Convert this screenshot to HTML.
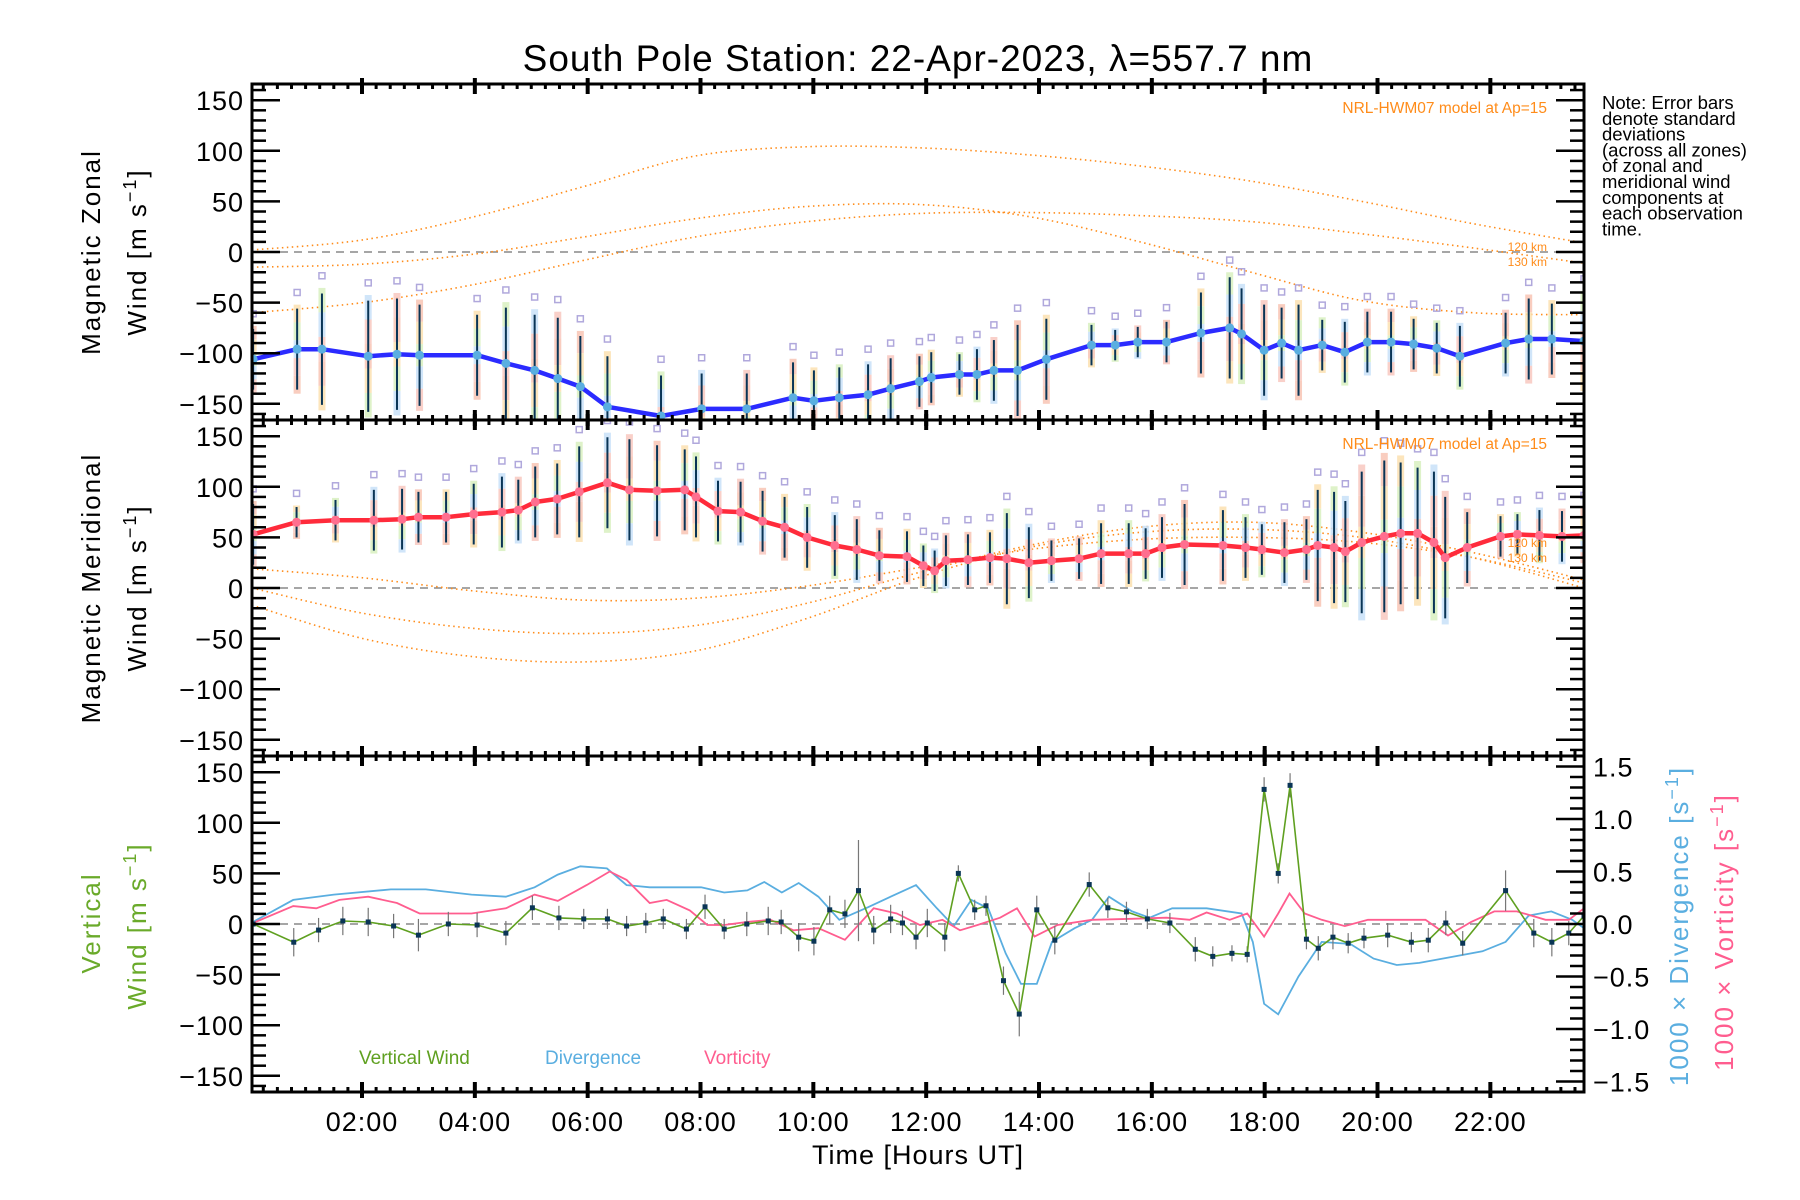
<!DOCTYPE html>
<html><head><meta charset="utf-8"><title>South Pole Station winds</title>
<style>
html,body{margin:0;padding:0;background:#fff;}
svg{display:block;font-family:"Liberation Sans",sans-serif;}
</style></head>
<body>
<svg id="chart" width="1800" height="1200" viewBox="0 0 1800 1200" xmlns="http://www.w3.org/2000/svg">
<rect x="0" y="0" width="1800" height="1200" fill="#fff"/>
<text x="918" y="71" font-size="37" text-anchor="middle" letter-spacing="1">South Pole Station: 22-Apr-2023, λ=557.7 nm</text>
<text font-size="18.5" fill="#000">
<tspan x="1602" y="109">Note: Error bars</tspan>
<tspan x="1602" y="124.8">denote standard</tspan>
<tspan x="1602" y="140.6">deviations</tspan>
<tspan x="1602" y="156.4">(across all zones)</tspan>
<tspan x="1602" y="172.2">of zonal and</tspan>
<tspan x="1602" y="188">meridional wind</tspan>
<tspan x="1602" y="203.8">components at</tspan>
<tspan x="1602" y="219.6">each observation</tspan>
<tspan x="1602" y="235.4">time.</tspan>
</text>
<g id="plots"></g>
</svg>
<script>
// ---------- data ----------
const modelH = [0.05,2.02,4.0,5.95,7.92,9.89,11.85,13.82,15.79,17.76,19.72,21.69,23.66];
const zonalModel120 = [2,12,35,65,95,104,103,96,85,70,50,28,9];
const zonalModelB = [-15,-12,-2,15,33,45,47,35,10,-20,-48,-60,-62];
const zonalModel130 = [-60,-50,-32,-8,15,30,38,39,36,30,18,4,-11];
const meridModelA = [19,10,-3,-12,-10,2,20,38,48,50,45,30,5];
const meridModelB = [0,-25,-40,-45,-37,-15,15,42,60,65,55,35,8];
const meridModelC = [-17,-50,-68,-73,-62,-30,10,40,55,58,50,30,0];

const zonalHours = [0.07,0.85,1.29,2.11,2.62,3.02,4.04,4.55,5.06,5.47,5.87,6.35,7.30,8.02,8.82,9.64,10.01,10.46,10.97,11.37,11.88,12.09,12.59,12.90,13.20,13.62,14.13,14.93,15.35,15.75,16.26,16.87,17.38,17.59,17.99,18.30,18.60,19.02,19.42,19.82,20.24,20.64,21.05,21.46,22.27,22.68,23.09,23.66];
const zonalWind = [-106,-96,-96,-103,-101,-102,-102,-110,-117,-125,-133,-153,-162,-155,-155,-144,-147,-144,-141,-135,-128,-124,-121,-121,-117,-117,-106,-92,-92,-89,-89,-80,-75,-81,-97,-90,-97,-92,-99,-89,-89,-91,-95,-103,-90,-86,-86,-88];
const zonalSd = [30,40,55,55,55,50,40,55,55,60,50,50,40,35,35,35,30,30,30,30,25,25,20,25,30,45,40,20,15,15,20,40,50,45,45,35,45,25,30,30,30,25,25,30,30,40,35,45];

const meridHours = [0.07,0.84,1.53,2.21,2.71,3.0,3.49,3.98,4.48,4.77,5.07,5.46,5.85,6.35,6.74,7.23,7.72,7.92,8.31,8.71,9.10,9.49,9.89,10.38,10.77,11.17,11.66,11.95,12.15,12.35,12.74,13.13,13.43,13.82,14.22,14.71,15.10,15.59,15.89,16.18,16.58,17.26,17.66,17.95,18.35,18.74,18.94,19.23,19.43,19.72,20.12,20.41,20.71,21.0,21.2,21.59,22.18,22.48,22.87,23.27,23.66];
const meridWind = [53,65,67,67,68,70,70,73,75,77,85,88,95,104,97,96,97,90,76,75,66,60,50,42,38,32,31,22,17,27,28,30,29,25,27,29,34,34,34,40,43,42,40,38,35,38,42,40,36,45,51,54,54,45,30,40,51,53,52,51,52];
const meridSd = [30,15,20,30,30,25,25,30,35,30,35,35,45,45,50,45,40,40,30,30,30,30,30,30,30,25,25,20,20,25,25,25,45,35,20,20,30,30,25,30,40,35,30,25,30,30,55,55,50,70,75,70,65,70,60,35,20,20,25,25,25];

const vertHours = [0.07,0.79,1.23,1.66,2.11,2.56,3.0,3.53,4.04,4.55,5.02,5.49,5.93,6.35,6.69,7.03,7.34,7.75,8.08,8.42,8.82,9.20,9.43,9.74,10.01,10.29,10.56,10.80,11.07,11.37,11.58,11.82,12.02,12.33,12.57,12.86,13.06,13.37,13.65,13.96,14.28,14.89,15.22,15.55,15.92,16.32,16.77,17.08,17.42,17.69,17.99,18.24,18.45,18.74,18.95,19.21,19.48,19.76,20.18,20.60,20.90,21.21,21.51,22.27,22.77,23.09,23.39,23.66];
const vertWind = [0,-18,-6,3,2,-2,-11,0,-1,-9,16,6,5,5,-2,1,5,-5,17,-5,0,3,2,-13,-17,14,10,33,-6,5,1,-13,1,-13,50,14,18,-56,-89,14,-16,39,16,12,5,1,-25,-32,-29,-30,133,50,137,-15,-24,-13,-19,-14,-11,-18,-16,1,-19,33,-9,-18,-9,8];
const vertSd = [12,14,12,14,14,12,16,12,12,12,12,12,10,10,10,10,10,10,12,10,12,14,12,14,14,14,14,50,14,14,12,12,14,14,8,10,10,14,22,14,14,12,10,10,10,10,12,10,8,8,12,10,12,10,12,12,10,10,12,10,12,12,12,20,14,14,12,12];

const divHours = [0.07,0.78,1.50,2.51,3.13,3.94,4.55,5.06,5.47,5.87,6.34,6.69,7.10,8.01,8.42,8.83,9.13,9.44,9.74,10.09,10.46,10.97,11.37,11.82,12.19,12.49,12.80,13.10,13.41,13.68,13.96,14.23,14.63,14.94,15.24,15.65,15.96,16.36,16.97,17.59,17.79,17.99,18.24,18.60,19.01,19.52,19.93,20.34,20.74,21.25,21.86,22.27,22.68,23.08,23.45,23.66];
const divergence = [0.02,0.23,0.28,0.33,0.33,0.28,0.26,0.35,0.47,0.55,0.53,0.37,0.35,0.35,0.30,0.32,0.40,0.30,0.39,0.26,0.04,0.16,0.26,0.37,0.15,-0.02,0.23,0.15,-0.28,-0.57,-0.57,-0.17,-0.04,0.04,0.26,0.12,0.06,0.15,0.15,0.10,-0.17,-0.76,-0.86,-0.5,-0.17,-0.19,-0.33,-0.39,-0.37,-0.32,-0.26,-0.17,0.08,0.12,0.04,-0.04];

const vortHours = [0.07,0.78,1.19,1.60,2.11,2.62,3.02,3.94,4.55,5.06,5.47,5.98,6.39,6.69,7.10,7.40,7.81,8.12,8.42,8.83,9.24,9.65,10.09,10.56,11.07,11.48,11.89,12.29,12.60,12.91,13.31,13.61,13.92,14.33,14.94,15.65,16.26,16.67,16.97,17.38,17.69,17.99,18.24,18.44,18.71,19.01,19.42,19.83,20.24,20.85,21.25,21.66,22.07,22.47,22.98,23.39,23.66];
const vorticity = [0.01,0.17,0.15,0.23,0.26,0.2,0.1,0.1,0.15,0.28,0.22,0.37,0.5,0.42,0.2,0.23,0.13,-0.01,-0.01,0.02,0.04,-0.06,-0.04,-0.15,0.15,0.1,-0.01,0.04,-0.06,-0.01,0.06,0.15,-0.12,-0.01,0.04,0.05,0.06,0.04,0.11,0.04,0.1,-0.12,0.1,0.29,0.1,0.04,-0.02,0.04,0.04,0.04,-0.11,0.02,0.12,0.12,0.04,0.04,0.15];

const windTicks = [-150,-100,-50,0,50,100,150];
const ratioTicks = [-1.5,-1.0,-0.5,0.0,0.5,1.0,1.5];
const hourTicks = [2,4,6,8,10,12,14,16,18,20,22];
const hourLabels = ["02:00","04:00","06:00","08:00","10:00","12:00","14:00","16:00","18:00","20:00","22:00"];

// ---------- axes ----------
const NS = "http://www.w3.org/2000/svg";
const L = 252, R = 1584, H0 = 0.05, H1 = 23.66;
const tops = [84, 420, 756], PH = 336, VMAX = 166, RMAX = 1.6;
const X = h => L + (h - H0) / (H1 - H0) * (R - L);
const Yp = (top) => v => top + PH / 2 - v / VMAX * (PH / 2);
const Yr = v => tops[2] + PH / 2 - v / RMAX * (PH / 2);
const root = document.getElementById('plots');

function mk(tag, attrs, parent) {
  const e = document.createElementNS(NS, tag);
  for (const k in attrs) e.setAttribute(k, attrs[k]);
  (parent || root).appendChild(e);
  return e;
}
function smoothPath(hs, vs, Y) {
  const p = hs.map((h, i) => [X(h), Y(vs[i])]);
  let d = `M${p[0][0]},${p[0][1]}`;
  for (let i = 0; i < p.length - 1; i++) {
    const p0 = p[Math.max(0, i - 1)], p1 = p[i], p2 = p[i + 1], p3 = p[Math.min(p.length - 1, i + 2)];
    const c1 = [p1[0] + (p2[0] - p0[0]) / 6, p1[1] + (p2[1] - p0[1]) / 6];
    const c2 = [p2[0] - (p3[0] - p1[0]) / 6, p2[1] - (p3[1] - p1[1]) / 6];
    d += ` C${c1[0]},${c1[1]} ${c2[0]},${c2[1]} ${p2[0]},${p2[1]}`;
  }
  return d;
}
function linePath(hs, vs, Y) {
  return hs.map((h, i) => (i ? 'L' : 'M') + X(h).toFixed(1) + ',' + Y(vs[i]).toFixed(1)).join(' ');
}

const defs = mk('defs', {});
tops.forEach((t, i) => {
  const cp = mk('clipPath', { id: 'clip' + i }, defs);
  mk('rect', { x: L, y: t, width: R - L, height: PH }, cp);
});

const pastel = ['#f8c4b4', '#fbe0b0', '#d8f0c0', '#c8e0f8', '#f8c8c0'];

function windPanel(idx, hours, vals, sd, lineColor, dotColor, models, name) {
  const top = tops[idx], Y = Yp(top);
  const g = mk('g', { 'clip-path': `url(#clip${idx})` });
  
  
  const z = mk('line', { x1: L, x2: R, y1: Y(0), y2: Y(0), stroke: '#888', 'stroke-width': 1.5, 'stroke-dasharray': '8 6' }, g);
  
  
  models.forEach((m, k) => {
    const p = mk('path', { d: smoothPath(modelH, m, Y), fill: 'none', stroke: '#ff8c1a', 'stroke-width': 1.6, 'stroke-dasharray': '1.5 3.5' }, g);
    
    
  });
  hours.forEach((h, i) => {
    const x = X(h);
    const lo = vals[i] - sd[i] * 1.1, hi = vals[i] + sd[i] * 1.1;
    const n = 5;
    for (let k = 0; k < n; k++) {
      const r = mk('rect', { x: x - 3.5, y: Y(hi - (hi - lo) * k / n), width: 7, height: Math.abs(Y(0) - Y((hi - lo) / n)), fill: pastel[(k + i) % 5], opacity: 0.85 }, g);
      
      
    }
    const q = mk('rect', { x: x - 3, y: Y(hi + 12) - 3, width: 6, height: 6, fill: 'none', stroke: '#b0a8dc', 'stroke-width': 1.5 }, g);
    
    
  });
  hours.forEach((h, i) => {
    const e = mk('line', { x1: X(h), x2: X(h), y1: Y(vals[i] - sd[i]), y2: Y(vals[i] + sd[i]), stroke: '#0a3556', 'stroke-width': 2 }, g);
    
    
  });
  const ln = mk('path', { d: linePath(hours, vals, Y), fill: 'none', stroke: lineColor, 'stroke-width': 4.5, 'stroke-linejoin': 'round' }, g);
  
  
  hours.forEach((h, i) => {
    const c = mk('circle', { cx: X(h), cy: Y(vals[i]), r: 4.5, fill: dotColor }, g);
    
    
  });
  const t1 = mk('text', { x: 1547, y: top + 29, 'font-size': 15.5, fill: '#ff8c1a', 'text-anchor': 'end' });
  t1.textContent = 'NRL-HWM07 model at Ap=15';
  
  
  const kmY = idx === 0 ? [top + 167, top + 182] : [top + 127, top + 142];
  ['120 km', '130 km'].forEach((s, k) => {
    const t = mk('text', { x: 1547, y: kmY[k], 'font-size': 12, fill: '#ff8c1a', 'text-anchor': 'end' });
    t.textContent = s;
    
    
  });
}

windPanel(0, zonalHours, zonalWind, zonalSd, '#2b2bff', '#5aaee0', [zonalModel120, zonalModelB, zonalModel130], 'zonal');
windPanel(1, meridHours, meridWind, meridSd, '#ff2b3b', '#ff6f8f', [meridModelA, meridModelB, meridModelC], 'meridional');

(function () {
  const top = tops[2], Y = Yp(top);
  const g = mk('g', { 'clip-path': 'url(#clip2)' });
  
  
  const z = mk('line', { x1: L, x2: R, y1: Y(0), y2: Y(0), stroke: '#888', 'stroke-width': 1.5, 'stroke-dasharray': '8 6' }, g);
  
  
  const dv = mk('path', { d: linePath(divHours, divergence, Yr), fill: 'none', stroke: '#5aaee0', 'stroke-width': 1.8 }, g);
  
  
  const vo = mk('path', { d: linePath(vortHours, vorticity, Yr), fill: 'none', stroke: '#ff5d8f', 'stroke-width': 1.8 }, g);
  
  
  vertHours.forEach((h, i) => {
    const e = mk('line', { x1: X(h), x2: X(h), y1: Y(vertWind[i] - vertSd[i]), y2: Y(vertWind[i] + vertSd[i]), stroke: '#777', 'stroke-width': 1.2 }, g);
    
    
  });
  const vw = mk('path', { d: linePath(vertHours, vertWind, Y), fill: 'none', stroke: '#5fa020', 'stroke-width': 1.6 }, g);
  
  
  vertHours.forEach((h, i) => {
    const p = mk('rect', { x: X(h) - 2.5, y: Y(vertWind[i]) - 2.5, width: 5, height: 5, fill: '#0a3556' }, g);
    
    
  });
  const leg = [['Vertical Wind', 359, '#5fa020', 'legend-vertical-wind'], ['Divergence', 545, '#5aaee0', 'legend-divergence'], ['Vorticity', 704, '#ff5d8f', 'legend-vorticity']];
  leg.forEach(l => {
    const t = mk('text', { x: l[1], y: 1064, 'font-size': 19, fill: l[2] });
    t.textContent = l[0];
    
    
  });
})();

tops.forEach((top, idx) => {
  const Y = Yp(top);
  const ax = mk('g', {});
  
  
  mk('rect', { x: L, y: top, width: R - L, height: PH, fill: 'none', stroke: '#000', 'stroke-width': 3 }, ax);
  for (let q = Math.ceil(H0 * 4); q <= Math.floor(H1 * 4); q++) {
    const h = q / 4, x = X(h), major = q % 8 === 0;
    const len = major ? 10 : 5;
    mk('line', { x1: x, x2: x, y1: top + PH - len, y2: top + PH + (major ? 6 : 0), stroke: '#000', 'stroke-width': major ? 4 : 3 }, ax);
    mk('line', { x1: x, x2: x, y1: top - (major ? 6 : 0), y2: top + len, stroke: '#000', 'stroke-width': major ? 4 : 3 }, ax);
  }
  for (let v = -160; v <= 160; v += 10) {
    const major = v % 50 === 0, len = major ? 28 : 14, y = Y(v);
    mk('line', { x1: L, x2: L + len, y1: y, y2: y, stroke: '#000', 'stroke-width': 2.5 }, ax);
    if (idx < 2) mk('line', { x1: R - len, x2: R, y1: y, y2: y, stroke: '#000', 'stroke-width': 2.5 }, ax);
  }
  windTicks.forEach(v => {
    const t = mk('text', { x: 244, y: Y(v) + 10, 'font-size': 27, 'text-anchor': 'end', 'letter-spacing': 1 }, ax);
    t.textContent = (v < 0 ? '\u2212' : '') + Math.abs(v);
    
    
  });
});
(function () {
  const ax = mk('g', {});
  
  
  for (let k = -15; k <= 15; k++) {
    const v = k / 10, y = Yr(v), major = k % 5 === 0, len = major ? 28 : 14;
    mk('line', { x1: R - len, x2: R, y1: y, y2: y, stroke: '#000', 'stroke-width': 2.5 }, ax);
  }
  ratioTicks.forEach(v => {
    const t = mk('text', { x: 1593, y: Yr(v) + 10, 'font-size': 27, 'letter-spacing': 1 }, ax);
    t.textContent = (v < 0 ? '\u2212' : '') + Math.abs(v).toFixed(1);
    
    
  });
})();
hourTicks.forEach((h, i) => {
  const t = mk('text', { x: X(h), y: 1131, 'font-size': 27, 'text-anchor': 'middle', 'letter-spacing': 1 });
  t.textContent = hourLabels[i];
  
  
});
const xt = mk('text', { x: 918, y: 1164, 'font-size': 27, 'text-anchor': 'middle', 'letter-spacing': 1 });
xt.textContent = 'Time [Hours UT]';



function vtitle(x, cy, parts, color, name) {
  const t = mk('text', { x: 0, y: 0, 'font-size': 26, 'text-anchor': 'middle', fill: color, 'letter-spacing': 2, transform: `translate(${x},${cy}) rotate(-90)` });
  parts.forEach(p => {
    const s = mk('tspan', p.sup ? { dy: -10, 'font-size': 18 } : (p.after ? { dy: 10 } : {}), t);
    s.textContent = p.t;
  });
  
  
}
const unit = [{ t: 'Wind [m s' }, { t: '\u22121', sup: true }, { t: ']', after: true }];
vtitle(100, 252, [{ t: 'Magnetic Zonal' }], '#000', 'zonal-y-title');
vtitle(146, 252, unit, '#000', 'zonal-y-unit');
vtitle(100, 588, [{ t: 'Magnetic Meridional' }], '#000', 'meridional-y-title');
vtitle(146, 588, unit, '#000', 'meridional-y-unit');
vtitle(100, 923, [{ t: 'Vertical' }], '#6aaa2a', 'vertical-y-title');
vtitle(146, 926, unit, '#6aaa2a', 'vertical-y-unit');
vtitle(1688, 926, [{ t: '1000 \u00d7 Divergence [s' }, { t: '\u22121', sup: true }, { t: ']', after: true }], '#5aaee0', 'divergence-axis-title');
vtitle(1733, 932, [{ t: '1000 \u00d7 Vorticity [s' }, { t: '\u22121', sup: true }, { t: ']', after: true }], '#ff5d8f', 'vorticity-axis-title');
</script>
</body></html>
